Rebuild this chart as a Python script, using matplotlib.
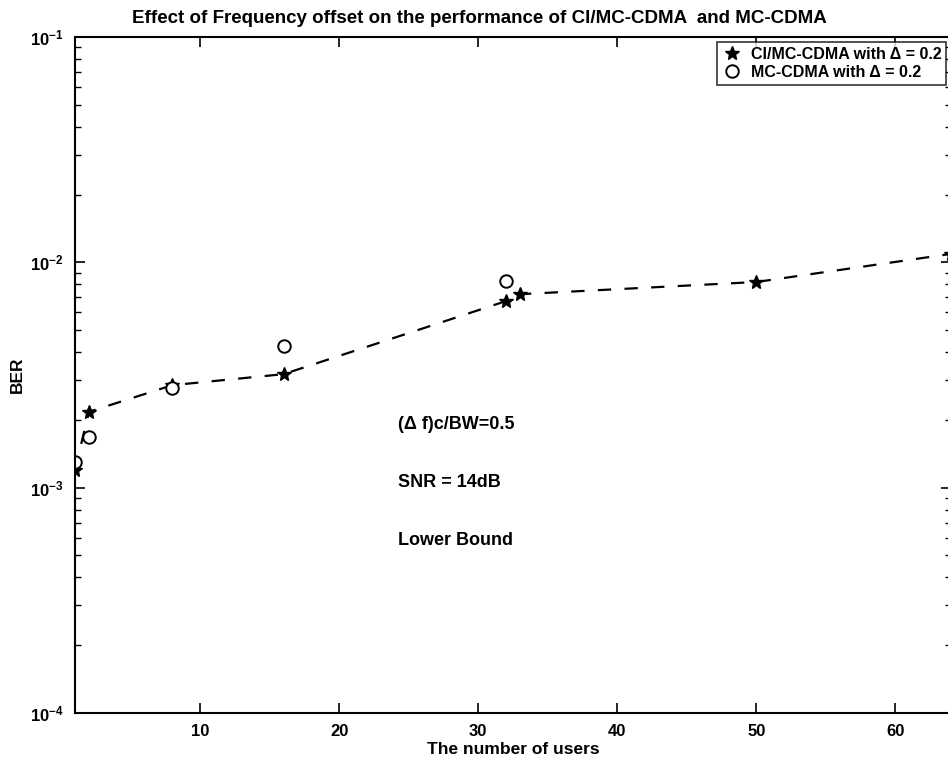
import numpy as np
import matplotlib
matplotlib.use("Agg")
import matplotlib.pyplot as plt

plt.rcParams['font.family'] = ['Liberation Sans', 'DejaVu Sans']
plt.rcParams['font.weight'] = 'bold'

# CI/MC-CDMA (lower bound) with delta = 0.2
users_ci = [1, 2, 8, 16, 32, 33, 50, 64]
ber_ci = [1.2e-3, 2.17e-3, 2.85e-3, 3.19e-3, 6.73e-3, 7.22e-3, 8.18e-3, 1.09e-2]

# MC-CDMA with delta = 0.2
users_mc = [1, 2, 8, 16, 32]
ber_mc = [1.30e-3, 1.68e-3, 2.77e-3, 4.26e-3, 8.26e-3]

x_ticks = [10, 20, 30, 40, 50, 60]
notes = ['(\u0394 f)c/BW=0.5', 'SNR = 14dB', 'Lower Bound']
note_y = [1.9e-3, 1.05e-3, 5.8e-4]

fig = plt.figure(figsize=(9.48, 7.66), dpi=100)
ax = fig.add_axes([75 / 948, 53 / 766, 876 / 948, 676 / 766])

ax.semilogy(users_ci, ber_ci, '--', color='black', linewidth=1.6, dashes=(6, 6))
ax.semilogy(users_ci, ber_ci, '*', color='black', markersize=10, linestyle='none',
            label='CI/MC-CDMA with \u0394 = 0.2')
ax.semilogy(users_mc, ber_mc, 'o', color='black', markerfacecolor='white',
            markersize=9, markeredgewidth=1.4, linestyle='none',
            label='MC-CDMA with \u0394 = 0.2')

for t, y in zip(notes, note_y):
    ax.text(24.2, y, t, fontsize=13, va='center', ha='left')

ax.set_xlim(1, 64)
ax.set_ylim(1e-4, 1e-1)
ax.set_xticks(x_ticks)
ax.tick_params(which='both', direction='in', top=True, right=True, labelsize=12, pad=8)
ax.tick_params(which='major', length=7, width=1.2)
ax.tick_params(which='minor', length=4, width=1)
for s in ax.spines.values():
    s.set_linewidth(1.5)

ax.set_title('Effect of Frequency offset on the performance of CI/MC-CDMA  and MC-CDMA',
             fontsize=13.5, pad=10, fontweight='bold', x=0.462)
ax.set_xlabel('The number of users', fontsize=12.5, labelpad=2, fontweight='bold')
ax.set_ylabel('BER', fontsize=12.5, labelpad=4, fontweight='bold')

leg = ax.legend(loc='upper right', prop={'size': 11.5, 'weight': 'bold'}, frameon=True,
                fancybox=False, edgecolor='black', borderaxespad=0.3, handletextpad=0.6,
                handlelength=1.2, borderpad=0.3, labelspacing=0.2)
leg.get_frame().set_linewidth(1.2)

fig.savefig('out.png', dpi=100)
